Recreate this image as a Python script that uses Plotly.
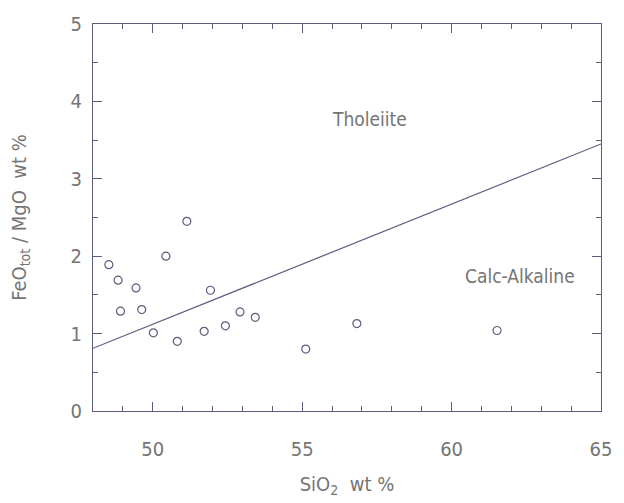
import plotly.graph_objects as go

# Data
sio2 = [48.53, 48.84, 48.92, 49.44, 49.63, 50.02, 50.44, 50.82, 51.14, 51.72,
        51.93, 52.43, 52.92, 53.43, 55.12, 56.83, 61.52]
feo_mgo = [1.89, 1.69, 1.29, 1.59, 1.31, 1.01, 2.00, 0.90, 2.45, 1.03,
           1.56, 1.10, 1.28, 1.21, 0.80, 1.13, 1.04]
line_x = [48, 65]
line_y = [0.81, 3.45]
x_ticks = [50, 55, 60, 65]
y_ticks = [0, 1, 2, 3, 4, 5]
x_range = [48, 65]
y_range = [0, 5]

LINE_C = "#5b5c7e"
TEXT_C = "#747474"
FONT = "DejaVu Sans Condensed, Roboto, sans-serif"

fig = go.Figure()
fig.add_trace(go.Scatter(x=line_x, y=line_y, mode="lines",
                         line=dict(color=LINE_C, width=1.2), showlegend=False))
fig.add_trace(go.Scatter(x=sio2, y=feo_mgo, mode="markers",
                         marker=dict(symbol="circle-open", size=8,
                                     color=LINE_C, line=dict(width=1.2)),
                         showlegend=False))

fig.add_annotation(x=57.25, y=3.77, text="Tholeiite", showarrow=False,
                   font=dict(family=FONT, size=19, color=TEXT_C))
fig.add_annotation(x=62.3, y=1.75, text="Calc-Alkaline", showarrow=False,
                   font=dict(family=FONT, size=19, color=TEXT_C))


def tick_axis(rng, vals, minor_step, minor0, side, overlay):
    return dict(range=rng, tickmode="array", tickvals=vals, showticklabels=False,
                side=side, overlaying=overlay, showline=True, linecolor=LINE_C,
                linewidth=1.2, ticks="inside", tickcolor=LINE_C, ticklen=9,
                tickwidth=1.2, showgrid=False, zeroline=False,
                minor=dict(dtick=minor_step, tick0=minor0, ticks="inside", ticklen=5,
                           tickcolor=LINE_C, tickwidth=1, showgrid=False))


fig.update_layout(
    xaxis=dict(range=x_range, tickmode="array", tickvals=x_ticks,
               showline=True, linecolor=LINE_C, linewidth=1.2, ticks="",
               showgrid=False, zeroline=False, ticklabelstandoff=20,
               tickfont=dict(family=FONT, size=20, color=TEXT_C),
               title=dict(text="SiO<sub>2</sub>  wt %", standoff=16,
                          font=dict(family=FONT, size=20, color=TEXT_C))),
    yaxis=dict(range=y_range, tickmode="array", tickvals=y_ticks,
               showline=True, linecolor=LINE_C, linewidth=1.2, ticks="",
               showgrid=False, zeroline=False, ticklabelstandoff=6,
               tickfont=dict(family=FONT, size=20, color=TEXT_C),
               title=dict(text="FeO<sub>tot</sub> / MgO  wt %", standoff=38,
                          font=dict(family=FONT, size=20, color=TEXT_C))),
    xaxis2=tick_axis(x_range, x_ticks, 1, 48, "top", "x"),
    yaxis2=tick_axis(y_range, y_ticks, 0.5, 0, "right", "y"),
    xaxis3=tick_axis(x_range, x_ticks, 1, 48, "bottom", "x"),
    yaxis3=tick_axis(y_range, y_ticks, 0.5, 0, "left", "y"),
)
fig.add_trace(go.Scatter(x=[], y=[], xaxis="x2", yaxis="y2", showlegend=False))
fig.add_trace(go.Scatter(x=[], y=[], xaxis="x3", yaxis="y3", showlegend=False))

fig.update_layout(width=624, height=503, margin=dict(l=93, r=15, t=21, b=92),
                  plot_bgcolor="white", paper_bgcolor="white")
fig.write_html("out.html")
